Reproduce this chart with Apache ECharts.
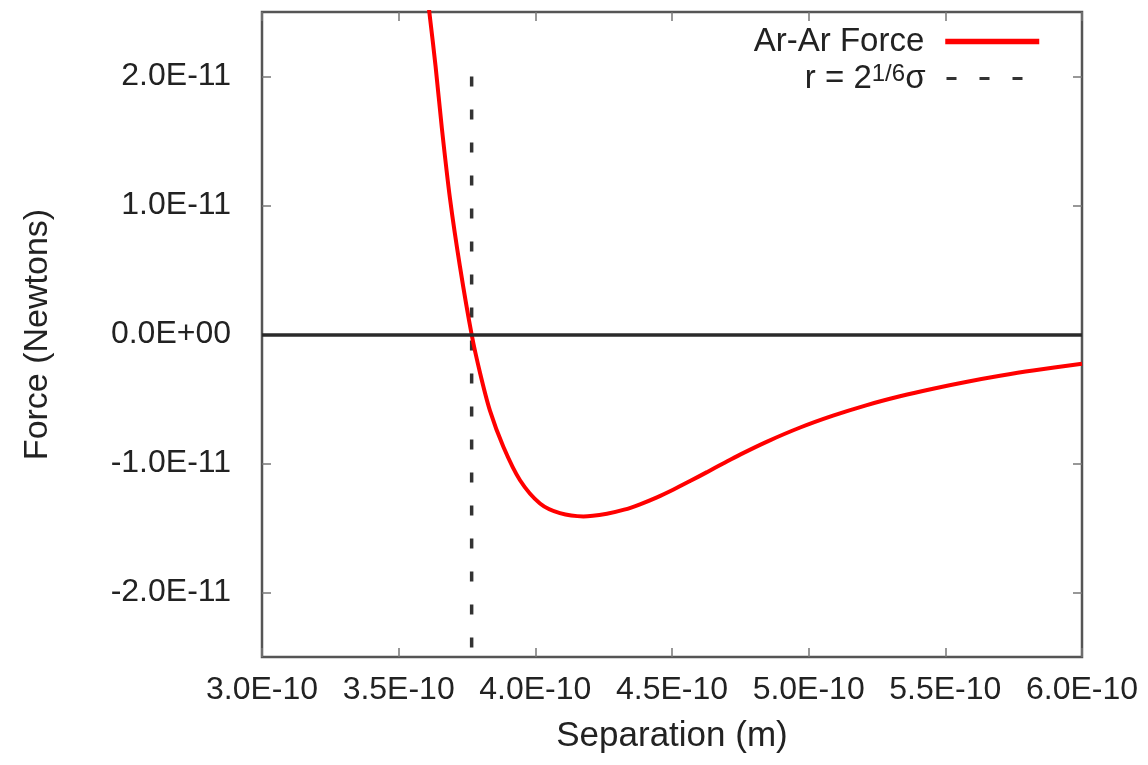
<!DOCTYPE html>
<html>
<head>
<meta charset="utf-8">
<style>
  html, body { margin: 0; padding: 0; background: #fff; }
  #chart { width: 1148px; height: 765px; }
</style>
<script src="https://cdn.jsdelivr.net/npm/echarts@6/dist/echarts.min.js"></script>
</head>
<body>
<div id="chart"></div>
<script>
// separation in units of 1E-10 m, force in units of 1E-12 N
const separation = [3.611, 3.635, 3.658, 3.688, 3.724, 3.767, 3.798, 3.834, 3.883, 3.944,
    4.017, 4.090, 4.176, 4.262, 4.325, 4.383, 4.445, 4.504, 4.566, 4.628,
    4.687, 4.749, 4.848, 4.969, 5.089, 5.210, 5.334, 5.455, 5.580, 5.700,
    5.821, 6.000];
const force = [25.2, 20.8, 16.0, 10.5, 5.3, 0.0, -3.0, -5.9, -8.7, -11.3,
    -13.1, -13.85, -14.1, -13.89, -13.58, -13.16, -12.62, -12.03, -11.36, -10.67,
    -10.0, -9.31, -8.3, -7.21, -6.29, -5.49, -4.79, -4.2, -3.66, -3.2,
    -2.79, -2.27];
const rMin = 3.767; // r = 2^(1/6) sigma
const rMinLine = [20, -25];
const xTicks = [3.0, 3.5, 4.0, 4.5, 5.0, 5.5, 6.0];
const yTicks = [-20, -10, 0, 10, 20];

const font = 'Liberation Sans, Arial, Helvetica, sans-serif';
const ink = '#222';

const sci = (v) => {
    const [m, e] = v.toExponential(1).split('e');
    const sign = e[0] === '-' ? '-' : '+';
    const d = e.replace(/^[+-]/, '');
    return m + 'E' + sign + d.padStart(2, '0');
};

const myChart = echarts.init(document.getElementById('chart'));

const tickStyle = { show: true, inside: true, length: 9, lineStyle: { color: '#777', width: 1.5 } };

const option = {
    animation: false,
    backgroundColor: '#fff',
    grid: {
        left: 262, right: 66, top: 12, bottom: 108,
        show: true, borderColor: '#555', borderWidth: 2.5,
        containLabel: false, outerBoundsMode: 'none'
    },
    legend: [
        {
            data: ['Ar-Ar Force'],
            right: 106, top: 25, padding: 0,
            align: 'right', itemWidth: 94, itemHeight: 20,
            itemStyle: { opacity: 0 },
            lineStyle: { width: 5.5 },
            textStyle: { fontFamily: font, fontSize: 33, color: ink, padding: [0, 16, 0, 0] }
        },
        {
            data: ['rmin'],
            right: 122, top: 62, padding: 0,
            align: 'right', itemWidth: 78, itemHeight: 20,
            itemStyle: { opacity: 0 },
            lineStyle: { width: 3 },
            formatter: () => '{b|r = 2}{s|1/6}{b|σ}',
            textStyle: {
                fontFamily: font, fontSize: 33, color: ink, padding: [0, 16, 0, 0],
                rich: {
                    b: { fontFamily: font, fontSize: 33, color: ink, verticalAlign: 'bottom' },
                    s: { fontFamily: font, fontSize: 24, color: ink, verticalAlign: 'top' }
                }
            }
        }
    ],
    xAxis: [
        {
            type: 'value', min: 3.0, max: 6.0, interval: 0.5,
            name: 'Separation (m)', nameLocation: 'middle', nameGap: 62,
            nameTextStyle: { fontFamily: font, fontSize: 35, color: ink },
            axisLine: { show: false, onZero: false },
            axisTick: tickStyle,
            splitLine: { show: false },
            axisLabel: {
                customValues: xTicks,
                fontFamily: font, fontSize: 32, color: ink, margin: 17,
                formatter: (v) => sci(v * 1e-10)
            }
        },
        {
            type: 'value', min: 3.0, max: 6.0, interval: 0.5, position: 'top',
            axisLine: { show: false, onZero: false }, axisTick: tickStyle,
            splitLine: { show: false }, axisLabel: { show: false }
        }
    ],
    yAxis: [
        {
            type: 'value', min: -25, max: 25,
            name: 'Force (Newtons)', nameLocation: 'middle', nameGap: 207,
            nameTextStyle: { fontFamily: font, fontSize: 34, color: ink },
            axisLine: { show: false, onZero: false },
            axisTick: Object.assign({ customValues: yTicks }, tickStyle),
            splitLine: { show: false },
            axisLabel: {
                customValues: yTicks,
                fontFamily: font, fontSize: 32, color: ink, margin: 31,
                formatter: (v) => sci(v * 1e-12)
            }
        },
        {
            type: 'value', min: -25, max: 25, position: 'right',
            axisLine: { show: false, onZero: false },
            axisTick: Object.assign({ customValues: yTicks }, tickStyle),
            splitLine: { show: false }, axisLabel: { show: false }
        }
    ],
    series: [
        {
            name: 'rmin',
            type: 'line',
            symbol: 'none',
            z: 2,
            lineStyle: { color: '#333', width: 3.5, type: [10, 23] },
            itemStyle: { color: '#333' },
            data: rMinLine.map((f) => [rMin, f]),
            markLine: {
                silent: true,
                symbol: 'none',
                label: { show: false },
                lineStyle: { color: '#2a2a2a', width: 3.5, type: 'solid' },
                data: [{ yAxis: 0 }]
            }
        },
        {
            name: 'Ar-Ar Force',
            type: 'line',
            symbol: 'none',
            smooth: 0.3,
            z: 3,
            lineStyle: { color: '#ff0000', width: 4 },
            itemStyle: { color: '#ff0000' },
            data: separation.map((r, i) => [r, force[i]])
        }
    ]
};

myChart.setOption(option);
</script>
</body>
</html>
